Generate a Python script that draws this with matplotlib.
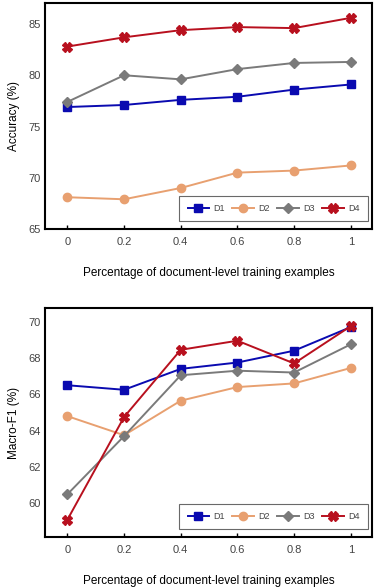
import matplotlib.pyplot as plt

plt.rcParams['font.family'] = ['Liberation Sans', 'DejaVu Sans']

# x values: fraction of document-level training examples
x = [0, 0.2, 0.4, 0.6, 0.8, 1]
x_labels = ['0', '0.2', '0.4', '0.6', '0.8', '1']

# Accuracy (%)
acc_d1 = [76.9, 77.1, 77.6, 77.9, 78.6, 79.1]
acc_d2 = [68.1, 67.9, 69.0, 70.5, 70.7, 71.2]
acc_d3 = [77.4, 80.0, 79.6, 80.6, 81.2, 81.3]
acc_d4 = [82.8, 83.7, 84.4, 84.7, 84.6, 85.6]

# Macro-F1 (%)
f1_d1 = [66.5, 66.25, 67.4, 67.75, 68.4, 69.7]
f1_d2 = [64.8, 63.75, 65.65, 66.4, 66.6, 67.45]
f1_d3 = [60.5, 63.7, 67.05, 67.3, 67.2, 68.75]
f1_d4 = [59.1, 64.75, 68.45, 68.95, 67.7, 69.75]

names = ['D1', 'D2', 'D3', 'D4']
colors = ['#0a0ab0', '#e8a070', '#7a7a7a', '#b8101e']
markers = ['s', 'o', 'D', 'X']
msizes = [6, 6, 5, 7]

fig = plt.figure(figsize=(3.74, 5.88), dpi=100)
ax1 = fig.add_axes([45 / 374, 1 - 229 / 588, 327 / 374, 226 / 588])
ax2 = fig.add_axes([45 / 374, 1 - 537 / 588, 327 / 374, 229 / 588])


def draw(ax, series, ylim, yticks, ylabel):
    for ys, name, c, m, ms in zip(series, names, colors, markers, msizes):
        ax.plot(x, ys, color=c, marker=m, markersize=ms, linewidth=1.4,
                label=name, markeredgecolor=c)
    ax.set_xlim(-0.079, 1.075)
    ax.set_ylim(*ylim)
    ax.set_xticks(x)
    ax.set_xticklabels(x_labels)
    ax.set_yticks(yticks)
    ax.tick_params(axis='x', direction='in', length=3, width=1,
                   labelsize=8, labelcolor='#444444', pad=6)
    ax.tick_params(axis='y', length=0, labelsize=8, labelcolor='#444444', pad=3)
    for s in ax.spines.values():
        s.set_linewidth(1.5)
        s.set_color('black')
    ax.set_ylabel(ylabel, fontsize=8.5, labelpad=6)
    ax.set_xlabel('Percentage of document-level training examples',
                  fontsize=8.5, labelpad=14)
    leg = ax.legend(loc='lower right', ncol=4, fontsize=6.5, frameon=True,
                    fancybox=False, handlelength=2.4, columnspacing=0.8,
                    handletextpad=0.5, borderpad=0.9, borderaxespad=0,
                    bbox_to_anchor=(0.988, 0.035))
    leg.get_frame().set_edgecolor('#444444')
    leg.get_frame().set_linewidth(0.8)
    for t in leg.get_texts():
        t.set_color('#444444')


draw(ax1, [acc_d1, acc_d2, acc_d3, acc_d4], (65, 87.05),
     [65, 70, 75, 80, 85], 'Accuracy (%)')
draw(ax2, [f1_d1, f1_d2, f1_d3, f1_d4], (58.15, 70.75),
     [60, 62, 64, 66, 68, 70], 'Macro-F1 (%)')

plt.savefig('out.png', dpi=100)
